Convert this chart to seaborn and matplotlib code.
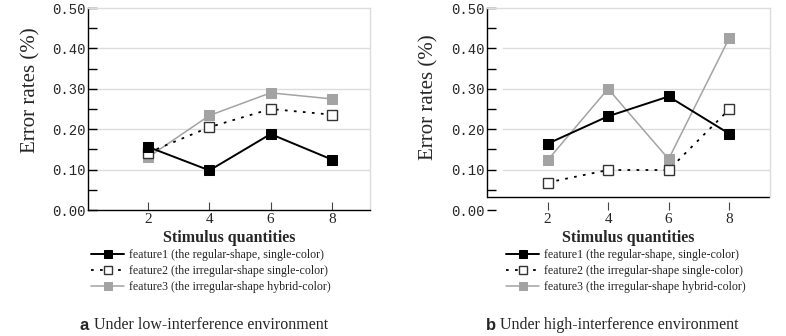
import matplotlib
matplotlib.use("Agg")
import matplotlib.pyplot as plt
import seaborn as sns
import pandas as pd

sns.set_theme(style="white")
plt.rcParams['font.family'] = ['Liberation Serif', 'DejaVu Serif']

quantities = [2, 4, 6, 8]
low_f1 = [0.156, 0.098, 0.188, 0.125]
low_f2 = [0.142, 0.205, 0.250, 0.236]
low_f3 = [0.131, 0.234, 0.290, 0.275]
high_f1 = [0.164, 0.232, 0.281, 0.189]
high_f2 = [0.068, 0.099, 0.099, 0.249]
high_f3 = [0.123, 0.300, 0.126, 0.425]
labels = ["feature1 (the regular-shape, single-color)",
          "feature2 (the irregular-shape single-color)",
          "feature3 (the irregular-shape hybrid-color)"]
ytick_vals = [0.0, 0.1, 0.2, 0.3, 0.4, 0.5]
ytick_labels = ["0.00", "0.10", "0.20", "0.30", "0.40", "0.50"]
captions = [("a", "Under low-interference environment"),
            ("b", "Under high-interference environment")]

GRAY = "#a3a3a3"
GRID = "#dcdcdc"

W, H = 786, 336
fig = plt.figure(figsize=(W / 100, H / 100), dpi=100)

def fx(px):
    return px / W

def fy(py):
    return 1 - py / H

axL = fig.add_axes([fx(88), fy(210), fx(370) - fx(88), fy(8) - fy(210)])
axR = fig.add_axes([fx(487), fy(210), fx(770) - fx(487), fy(8) - fy(210)])

def draw(ax, f1, f2, f3):
    df = pd.DataFrame({"q": quantities, "f1": f1, "f2": f2, "f3": f3})
    sns.lineplot(data=df, x="q", y="f3", ax=ax, color=GRAY, lw=1.1,
                 marker="s", markersize=7, markerfacecolor=GRAY,
                 markeredgecolor=GRAY, label=labels[2], zorder=3)
    sns.lineplot(data=df, x="q", y="f2", ax=ax, color="black", lw=1.3,
                 linestyle=(0, (1.5, 3.5)), marker="s", markersize=7,
                 markerfacecolor="white", markeredgecolor="#333333",
                 markeredgewidth=1.0, label=labels[1], zorder=4)
    sns.lineplot(data=df, x="q", y="f1", ax=ax, color="black", lw=1.4,
                 marker="s", markersize=7.5, markerfacecolor="black",
                 markeredgecolor="black", label=labels[0], zorder=5)
    ax.set_ylim(0, 0.5)
    ax.set_yticks(ytick_vals)
    ax.set_yticklabels(ytick_labels, family="Liberation Mono", fontsize=10)
    ax.set_yticks([0.05, 0.15, 0.25, 0.35, 0.45], minor=True)
    ax.set_xticks(quantities)
    ax.set_xticklabels([str(q) for q in quantities], fontsize=11)
    ax.tick_params(axis="y", which="both", direction="in", length=6.5,
                   width=1, color="black", pad=2, left=True)
    ax.tick_params(axis="x", direction="in", length=6, width=0.8,
                   color="#444444", pad=2, bottom=True)
    ax.set_ylabel("Error rates (%)", fontsize=15)
    ax.set_xlabel("Stimulus quantities", fontsize=11.5, fontweight="bold",
                  labelpad=3)
    for s in ["top", "right"]:
        ax.spines[s].set_color(GRID)
        ax.spines[s].set_linewidth(1)
    for s in ["left", "bottom"]:
        ax.spines[s].set_color("black")
        ax.spines[s].set_linewidth(1)

# left panel
draw(axL, low_f1, low_f2, low_f3)
axL.set_xlim(0.03, 9.25)
axL.yaxis.set_label_coords(-0.17, 0.594)
for yv in [0.1, 0.2, 0.3, 0.4]:
    axL.axhline(yv, color=GRID, lw=1, zorder=0)

# right panel
draw(axR, high_f1, high_f2, high_f3)
axR.set_xlim(0.0, 9.35)
axR.yaxis.set_label_coords(-0.17, 0.56)
axR.spines["bottom"].set_color("none")
axR.spines["left"].set_bounds(0.033, 0.5)
axR.spines["right"].set_bounds(0.033, 0.5)
axR.axhline(0.033, color="black", lw=1, zorder=2)
axR.hlines([0.1, 0.2, 0.3, 0.4], 0.51, 9.35, color=GRID, lw=1, zorder=0)

# legends
order = [2, 1, 0]
for ax, x0 in [(axL, 91), (axR, 506)]:
    h, l = ax.get_legend_handles_labels()
    ax.legend([h[i] for i in order], [l[i] for i in order],
              loc="upper left", bbox_to_anchor=(fx(x0), fy(249)),
              bbox_transform=fig.transFigure, frameon=False,
              fontsize=8.6, handlelength=2.8, handletextpad=0.35,
              labelspacing=0.33, borderpad=0, borderaxespad=0,
              markerscale=0.85)

# captions
for (letter, text), (xl, xt) in zip(captions, [(80, 94), (486, 500)]):
    fig.text(fx(xl), fy(325), letter, family=["Liberation Sans", "DejaVu Sans"],
             fontweight="bold", fontsize=12, va="center", ha="left")
    fig.text(fx(xt), fy(325), text, fontsize=11.5, va="center", ha="left")

fig.savefig("out.png", dpi=100)
